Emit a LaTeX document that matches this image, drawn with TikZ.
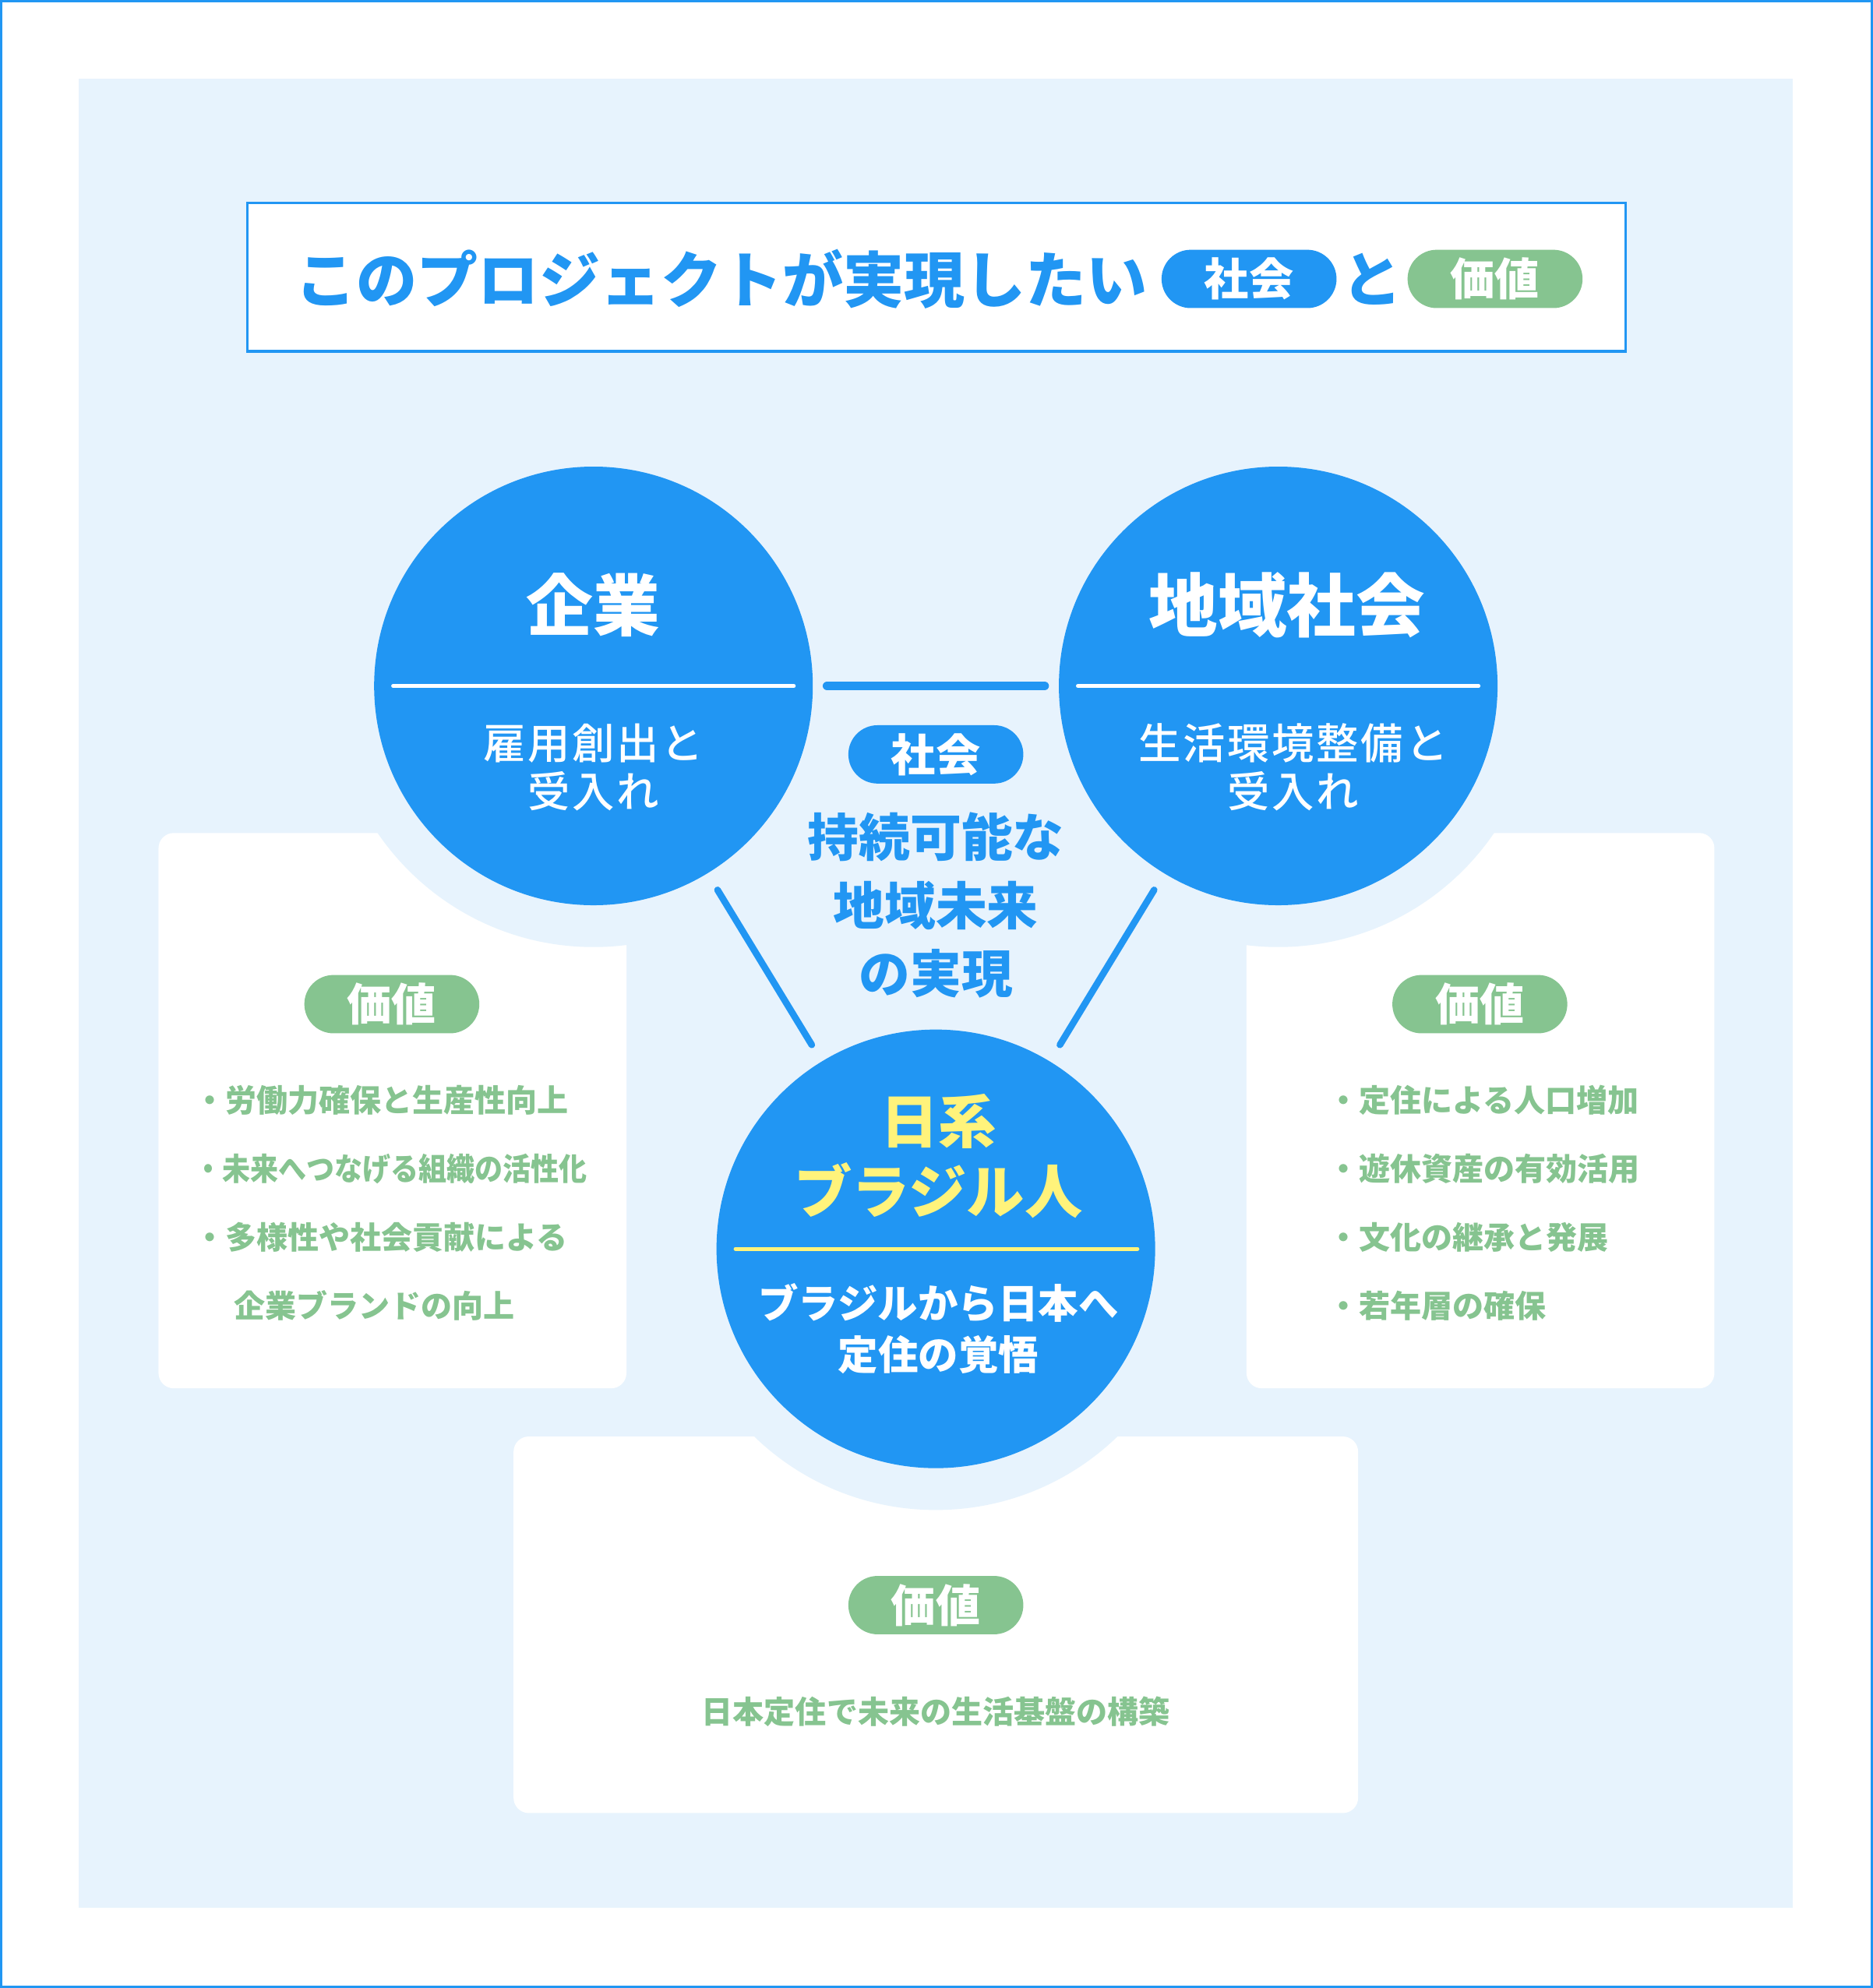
\documentclass[tikz,border=0pt]{standalone}
\usepackage{fontspec}
\usepackage{graphicx}
\setmainfont{Noto Sans CJK JP}
\newfontfamily\jpmedium{Noto Sans CJK JP Medium}
\usetikzlibrary{shapes.misc}
\definecolor{mainblue}{RGB}{33,150,243}
\definecolor{paleblue}{RGB}{231,243,253}
\definecolor{valgreen}{RGB}{134,196,144}
\definecolor{nikkeiyellow}{RGB}{255,243,123}

\begin{document}
\begin{tikzpicture}[x=0.02cm, y=-0.02cm,
    bigcircle/.style={circle, fill=mainblue, minimum size=6.92cm, inner sep=0pt},
    pill/.style={rounded rectangle, minimum width=2.76cm, minimum height=0.92cm, inner sep=0pt, text=white, font=\bfseries\fontsize{20}{20}\selectfont},
    card/.style={fill=white, rounded corners=0.24cm},
    link/.style={mainblue, line cap=round},
    subtext/.style={text=white, align=center, font=\jpmedium\fontsize{19}{21.6}\selectfont\addfontfeature{LetterSpace=5}},
    valtext/.style={text=valgreen, font=\bfseries\fontsize{14}{14}\selectfont, anchor=west, inner sep=0pt}]
    \useasboundingbox (0,0) rectangle (1477,1568);
    \draw [mainblue, line width=1pt] (0.9,0.9) rectangle (1476.1,1567.1);
    \fill [paleblue] (62,62) rectangle (1414,1505);

    % title
    \draw [mainblue, line width=1.2pt, fill=white] (195,160) rectangle (1282,277);
    \node (title) [anchor=west, inner sep=0pt, text=mainblue, font=\bfseries\fontsize{27.3}{27.3}\selectfont] at (233,220) {このプロジェクトが実現したい};
    \node (titlesoc) [pill, fill=mainblue] at (985,220) {社会};
    \node (titleto) [text=mainblue, font=\bfseries\fontsize{27}{27}\selectfont] at (1082,220) {と};
    \node (titleval) [pill, fill=valgreen] at (1179,220) {価値};

    % cards
    \fill [card] (125,657) rectangle (494,1095);
    \fill [card] (983,657) rectangle (1352,1095);
    \fill [card] (405,1133) rectangle (1071,1430);

    % circles
    \fill [paleblue] (468,541) circle (4.12cm);
    \fill [paleblue] (1008,541) circle (4.12cm);
    \fill [paleblue] (738,985) circle (4.12cm);
    \node (kigyo) [bigcircle] at (468,541) {};
    \node (chiiki) [bigcircle] at (1008,541) {};
    \node (nikkei) [bigcircle] at (738,985) {};

    \draw [link, line width=4pt, shorten <=0.22cm, shorten >=0.22cm] (kigyo) -- (chiiki);
    \draw [link, line width=3pt, shorten <=0.3cm, shorten >=0.3cm] (kigyo) -- (nikkei);
    \draw [link, line width=3pt, shorten <=0.3cm, shorten >=0.3cm] (chiiki) -- (nikkei);

    \draw [white, line width=1.7pt, line cap=round] (310,541) -- (626,541);
    \draw [white, line width=1.7pt, line cap=round] (850,541) -- (1166,541);
    \draw [nikkeiyellow, line width=1.7pt, line cap=round] (580,985) -- (897,985);

    \node (kigyohead) [text=white, font=\bfseries\fontsize{30}{30}\selectfont] at (468,477) {企業};
    \node (chiikihead) [text=white, font=\bfseries\fontsize{31}{31}\selectfont] at (1015,477) {地域社会};
    \node (kigyosub) [subtext] at (468,605) {雇用創出と\\受入れ};
    \node (chiikisub) [subtext] at (1020,605) {生活環境整備と\\受入れ};
    \node (nikkeihead) [text=nikkeiyellow, align=center, font=\bfseries\fontsize{26}{31.3}\selectfont] at (740,912) {日系\\ブラジル人};
    \node (nikkeisub) [text=white, align=center, font=\bfseries\fontsize{18}{22.8}\selectfont] at (740,1048) {ブラジルから日本へ\\定住の覚悟};

    % centre
    \node (midsoc) [pill, fill=mainblue] at (738,595) {社会};
    \node (midgoal) [text=mainblue, align=center, font=\bfseries\fontsize{23}{30.7}\selectfont] at (738,714) {持続可能な\\地域未来\\の実現};

    % values
    \node (kigyoval) [pill, fill=valgreen] at (309,792) {価値};
    \node (chiikival) [pill, fill=valgreen] at (1167,792) {価値};
    \node (nikkeival) [pill, fill=valgreen] at (738,1266) {価値};
    \node (kv1) [valtext] at (153,868) {・労働力確保と生産性向上};
    \node (kv2) [valtext] at (153,922) {\scalebox{0.9}[1]{・未来へつなげる組織の活性化}};
    \node (kv3) [valtext] at (153,976) {・多様性や社会貢献による};
    \node (kv4) [valtext] at (184,1030) {企業ブランドの向上};
    \foreach \t [count=\i] in {定住による人口増加, 遊休資産の有効活用, 文化の継承と発展, 若年層の確保}
      \node (cv\i) [valtext] at (1047,814+54*\i) {・\t};
    \node (nv) [text=valgreen, font=\bfseries\fontsize{14}{14}\selectfont] at (738,1350) {日本定住で未来の生活基盤の構築};
\end{tikzpicture}
\end{document}
